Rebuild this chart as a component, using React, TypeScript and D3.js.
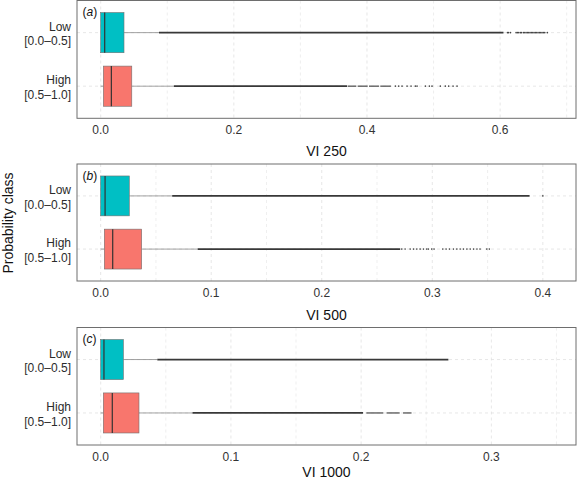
import React from "react";
import * as d3 from "d3";

// ---------- data ----------
const classes = ["Low", "High"];
const classLabels = [["Low", "[0.0–0.5]"], ["High", "[0.5–1.0]"]];
const classColors = ["#00BFC4", "#F8766D"];
const panelTags = ["a", "b", "c"];
const axisTitles = ["VI 250", "VI 500", "VI 1000"];
const majorTicks = [[0, 0.2, 0.4, 0.6], [0, 0.1, 0.2, 0.3, 0.4], [0, 0.1, 0.2, 0.3]];
const minorTicks = [[0.1, 0.3, 0.5, 0.7], [0.05, 0.15, 0.25, 0.35], [0.05, 0.15, 0.25, 0.35]];
const xDomains = [[-0.0356, 0.714], [-0.0214, 0.43], [-0.0182, 0.365]];

// box statistics per panel (a, b, c)
const lowMin = [0, 0, 0];
const lowQ1 = [0, 0, 0];
const lowMedian = [0.006, 0.004, 0.0025];
const lowQ3 = [0.035, 0.0259, 0.0174];
const lowWhiskerHigh = [0.0875, 0.0647, 0.0435];

const highMin = [0, 0, 0];
const highQ1 = [0.004, 0.0033, 0.002];
const highMedian = [0.016, 0.0109, 0.0089];
const highQ3 = [0.0467, 0.0371, 0.0294];
const highWhiskerHigh = [0.11, 0.0878, 0.0705];

// outliers: dense runs (visually continuous), thinner runs, and isolated points
const lowDenseRuns = [[[0.0875, 0.605]], [[0.0647, 0.388]], [[0.0435, 0.267]]];
const highDenseRuns = [[[0.11, 0.37]], [[0.0878, 0.271]], [[0.0705, 0.2015]]];
const highThinRuns = [
  [[0.371, 0.384], [0.386, 0.401], [0.403, 0.418], [0.42, 0.436]],
  [],
  [[0.204, 0.217], [0.2195, 0.2296], [0.2322, 0.2387]],
];
const lowOutliers = [
  [0.611, 0.6125, 0.6155, 0.624, 0.626, 0.628, 0.6305, 0.632, 0.635, 0.637, 0.639, 0.641, 0.643, 0.645,
    0.647, 0.649, 0.651, 0.653, 0.655, 0.657, 0.659, 0.661, 0.663, 0.665, 0.667, 0.671],
  [0.4],
  [],
];
const highOutliers = [
  [0.4426, 0.4477, 0.4527, 0.4602, 0.4662, 0.4727, 0.4752, 0.4877, 0.4937, 0.4977, 0.5102, 0.5177,
    0.5227, 0.5293, 0.5353],
  [0.2724, 0.2754, 0.28, 0.283, 0.286, 0.289, 0.292, 0.295, 0.2965, 0.2995, 0.3016, 0.3095, 0.3125,
    0.3155, 0.3191, 0.3222, 0.3252, 0.3282, 0.3313, 0.3343, 0.3373, 0.3404, 0.3432, 0.3493, 0.3516],
  [],
];

// ---------- layout ----------
const W = 577;
const H = 483;
const plotLeft = 77;
const plotRight = 576;
const panelTop = [0.5, 164, 327.5];
const panelBottom = [118.3, 281, 445];
const titleBaseline = [156, 319.5, 476.5];
const FONT = "'Liberation Sans', Arial, Helvetica, sans-serif";

function Panel({ i }: { i: number }) {
  const x = d3.scaleLinear().domain(xDomains[i]).range([plotLeft, plotRight]);
  const y = d3.scalePoint<string>().domain(classes).range([panelTop[i], panelBottom[i]]).padding(0.6);
  const boxH = y.step() * 0.75;
  const top = panelTop[i];
  const bottom = panelBottom[i];

  const stats = [
    { min: lowMin[i], q1: lowQ1[i], med: lowMedian[i], q3: lowQ3[i], wh: lowWhiskerHigh[i], runs: lowDenseRuns[i], thin: [] as number[][], pts: lowOutliers[i] },
    { min: highMin[i], q1: highQ1[i], med: highMedian[i], q3: highQ3[i], wh: highWhiskerHigh[i], runs: highDenseRuns[i], thin: highThinRuns[i], pts: highOutliers[i] },
  ];

  return (
    <g>
      {/* grid */}
      {minorTicks[i].map((t) => (
        <line key={"mi" + t} x1={x(t)} x2={x(t)} y1={top} y2={bottom} stroke="#e3e3e3" strokeWidth={0.6} strokeDasharray="3,3" />
      ))}
      {majorTicks[i].map((t) => (
        <line key={"ma" + t} x1={x(t)} x2={x(t)} y1={top} y2={bottom} stroke="#dcdcdc" strokeWidth={0.7} strokeDasharray="3,3" />
      ))}
      {classes.map((c) => (
        <line key={"h" + c} x1={plotLeft} x2={plotRight} y1={y(c)} y2={y(c)} stroke="#dcdcdc" strokeWidth={0.7} strokeDasharray="3,3" />
      ))}

      {/* boxes */}
      {classes.map((c, k) => {
        const s = stats[k];
        const cy = y(c) as number;
        return (
          <g key={"b" + c}>
            <line x1={x(s.min)} x2={x(s.q1)} y1={cy} y2={cy} stroke="#8a8a8a" strokeWidth={0.8} />
            <line x1={x(s.q3)} x2={x(s.wh)} y1={cy} y2={cy} stroke="#8a8a8a" strokeWidth={0.8} />
            {s.runs.map((r, j) => (
              <line key={"r" + j} x1={x(r[0])} x2={x(r[1])} y1={cy} y2={cy} stroke="#383838" strokeWidth={1.7} />
            ))}
            {s.thin.map((r, j) => (
              <line key={"t" + j} x1={x(r[0])} x2={x(r[1])} y1={cy} y2={cy} stroke="#555" strokeWidth={1.3} />
            ))}
            {s.pts.map((p, j) => (
              <circle key={"p" + j} cx={x(p)} cy={cy} r={0.8} fill="#444" />
            ))}
            <rect x={x(s.q1)} y={cy - boxH / 2} width={x(s.q3) - x(s.q1)} height={boxH} fill={classColors[k]} stroke="#707070" strokeWidth={0.6} />
            <line x1={x(s.med)} x2={x(s.med)} y1={cy - boxH / 2} y2={cy + boxH / 2} stroke="#333" strokeWidth={1.2} />
          </g>
        );
      })}

      {/* border */}
      <rect x={plotLeft} y={top} width={plotRight - plotLeft} height={bottom - top} fill="none" stroke="#6e6e6e" strokeWidth={1} />

      {/* panel tag */}
      <text x={plotLeft + 5.5} y={top + 15.5} fontSize={12} fontFamily={FONT} fill="#111">
        (<tspan fontStyle="italic">{panelTags[i]}</tspan>)
      </text>

      {/* category labels */}
      {classes.map((c, k) => {
        const cy = y(c) as number;
        return (
          <text key={"l" + c} textAnchor="end" fontSize={12} fontFamily={FONT} fill="#2b2b2b">
            <tspan x={71} y={cy - 2}>{classLabels[k][0]}</tspan>
            <tspan x={71} y={cy + 12.8}>{classLabels[k][1]}</tspan>
          </text>
        );
      })}

      {/* tick labels */}
      {majorTicks[i].map((t) => (
        <text key={"t" + t} x={x(t)} y={bottom + 16} textAnchor="middle" fontSize={12} fontFamily={FONT} fill="#333">
          {d3.format(".1f")(t)}
        </text>
      ))}

      {/* axis title */}
      <text x={(plotLeft + plotRight) / 2} y={titleBaseline[i]} textAnchor="middle" fontSize={14} fontFamily={FONT} fill="#111">
        {axisTitles[i]}
      </text>
    </g>
  );
}

export default function App() {
  return (
    <svg width={W} height={H} style={{ position: "absolute", left: 0, top: 0, background: "#fff" }}>
      <rect width={W} height={H} fill="#fff" />
      {panelTags.map((_, i) => (
        <Panel key={i} i={i} />
      ))}
      <text transform={`translate(13,223) rotate(-90)`} textAnchor="middle" fontSize={14} fontFamily={FONT} fill="#111">
        Probability class
      </text>
    </svg>
  );
}
